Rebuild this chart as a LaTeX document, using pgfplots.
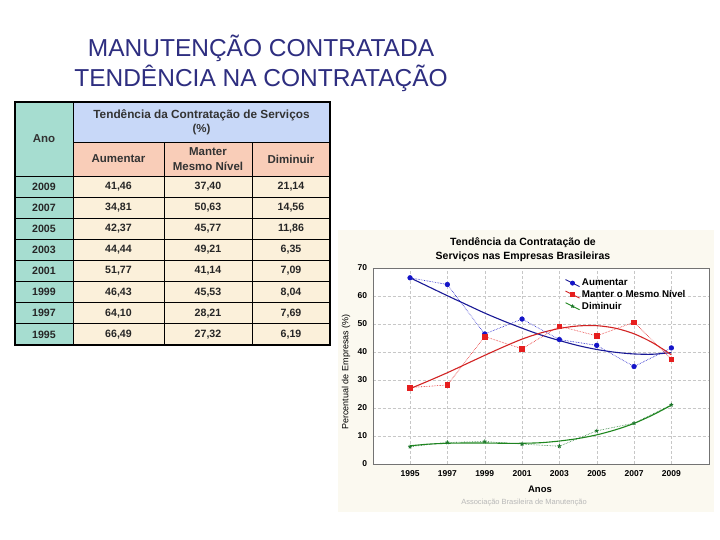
\documentclass[border=0pt]{standalone}
\usepackage{pgfplots}
\pgfplotsset{compat=1.18}
\usepackage{fontspec}
\setmainfont{Liberation Sans}

\definecolor{slidetitle}{RGB}{46,46,128}
\definecolor{cteal}{RGB}{166,221,208}
\definecolor{cblue}{RGB}{200,216,248}
\definecolor{csalmon}{RGB}{249,205,184}
\definecolor{ccream}{RGB}{251,240,218}
\definecolor{panel}{RGB}{251,249,240}
\definecolor{dblue}{RGB}{20,20,200}
\definecolor{fblue}{RGB}{25,25,150}
\definecolor{dred}{RGB}{230,30,30}
\definecolor{fred}{RGB}{210,35,35}
\definecolor{dgreen}{RGB}{30,120,45}
\definecolor{fgreen}{RGB}{30,135,30}

% data from the table (year, Aumentar, Manter, Diminuir)
\pgfplotstableread{
ano  aum    man    dim
1995 66.49  27.32  6.19
1997 64.10  28.21  7.69
1999 46.43  45.53  8.04
2001 51.77  41.14  7.09
2003 44.44  49.21  6.35
2005 42.37  45.77  11.86
2007 34.81  50.63  14.56
2009 41.46  37.40  21.14
}\dados

% fitted curves
\pgfplotstableread{
ano  aum   man   dim
1995 66.5  26.9  6.5
1996 63.3  29.7  7.1
1997 60.1  32.6  7.4
1998 57.0  35.7  7.5
1999 53.9  38.8  7.5
2000 51.1  41.8  7.4
2001 48.5  44.6  7.4
2002 46.1  46.8  7.6
2003 44.1  48.4  8.2
2004 42.3  49.3  9.1
2005 40.9  49.4  10.4
2006 39.9  48.5  12.2
2007 39.3  46.5  14.5
2008 39.2  43.3  17.5
2009 39.8  39.0  21.0
}\ajuste

\newcommand\fs[1]{\fontsize{#1}{#1}\selectfont}
\newcommand\trow[5]{%
  \node[font=\bfseries\fs{10.6}, text=black!85] at (44,#1) {#2};
  \node[font=\bfseries\fs{10.6}, text=black!85] at (118.5,#1) {#3};
  \node[font=\bfseries\fs{10.6}, text=black!85] at (208,#1) {#4};
  \node[font=\bfseries\fs{10.6}, text=black!85] at (291,#1) {#5};}

\begin{document}
\begin{tikzpicture}[x=1pt,y=1pt]
\path[use as bounding box, fill=white] (0,0) rectangle (720,540);

% slide title
\node[text=slidetitle, font=\fs{24.5}] at (261,492) {MANUTENÇÃO CONTRATADA};
\node[text=slidetitle, font=\fs{24.5}] at (261,462) {TENDÊNCIA NA CONTRATAÇÃO};

% table
\fill[cteal] (15,195) rectangle (73,438);
\fill[cblue] (73,398) rectangle (330,438);
\fill[csalmon] (73,364) rectangle (330,398);
\fill[ccream] (73,195) rectangle (330,364);
\draw[line width=0.9pt] (73,398) -- (330,398);
\foreach \y in {364,342.9,321.7,300.6,279.5,258.4,237.2,216.1} \draw[line width=0.9pt] (15,\y) -- (330,\y);
\draw[line width=0.9pt] (73,195) -- (73,438);
\draw[line width=0.9pt] (164,195) -- (164,398);
\draw[line width=0.9pt] (252,195) -- (252,398);
\draw[line width=1.4pt] (15,195) rectangle (330,438);
\node[font=\bfseries\fs{11.5}, text=black!80] at (44,401) {Ano};
\node[font=\bfseries\fs{11.8}, text=black!80] at (201.5,425) {Tendência da Contratação de Serviços};
\node[font=\bfseries\fs{11.5}, text=black!80] at (201.5,410) {(\%)};
\node[font=\bfseries\fs{11.5}, text=black!80] at (118.5,381) {Aumentar};
\node[font=\bfseries\fs{11.5}, text=black!80] at (208,388) {Manter};
\node[font=\bfseries\fs{11.5}, text=black!80] at (208,374) {Mesmo Nível};
\node[font=\bfseries\fs{11.5}, text=black!80] at (291,381) {Diminuir};
\trow{353.4}{2009}{41,46}{37,40}{21,14}
\trow{332.3}{2007}{34,81}{50,63}{14,56}
\trow{311.2}{2005}{42,37}{45,77}{11,86}
\trow{290.1}{2003}{44,44}{49,21}{6,35}
\trow{268.9}{2001}{51,77}{41,14}{7,09}
\trow{247.8}{1999}{46,43}{45,53}{8,04}
\trow{226.7}{1997}{64,10}{28,21}{7,69}
\trow{205.6}{1995}{66,49}{27,32}{6,19}

% chart panel
\fill[panel] (338,28) rectangle (714,310);
\node[font=\bfseries\fs{10.5}] at (523,297) {Tendência da Contratação de};
\node[font=\bfseries\fs{10.5}] at (523,283) {Serviços nas Empresas Brasileiras};
\node[font=\fs{9}, rotate=90] at (346,168) {Percentual de Empresas (\%)};
\node[font=\bfseries\fs{9.5}] at (540,51) {Anos};
\node[font=\fs{7.5}, text=black!28] at (524,37) {Associação Brasileira de Manutenção};

\begin{axis}[
  at={(372.7pt,76pt)}, anchor=south west,
  width=336pt, height=196pt, scale only axis,
  xmin=1993, xmax=2011, ymin=0, ymax=70,
  xtick={1995,1997,...,2009}, ytick={0,10,...,70},
  axis background/.style={fill=white},
  axis line style={black!55},
  major tick length=0pt,
  grid=major, grid style={densely dashed, black!22, line width=0.4pt},
  ticklabel style={font=\bfseries\fs{8.5}},
  /pgf/number format/assume math mode=true,
  xticklabel style={/pgf/number format/1000 sep=, yshift=-3pt},
  yticklabel style={xshift=-2pt},
  legend cell align=left,
  legend style={at={(0.572,0.955)}, anchor=north west, draw=none, fill=none,
    font=\bfseries\fs{9.8}, inner sep=0pt, row sep=-1pt,
    /tikz/every even column/.append style={column sep=2pt}},
  legend image code/.code={\draw[mark repeat=2, mark phase=2, #1]
    plot coordinates {(0pt,3.5pt) (7pt,0pt) (14pt,-3.5pt)};},
]
\addlegendimage{fblue, line width=0.9pt, mark=*, mark size=2, mark options={dblue}}
\addlegendimage{fred, line width=0.9pt, mark=square*, mark size=2, mark options={dred}}
\addlegendimage{fgreen, line width=0.9pt, mark=star, mark size=1.8, mark options={dgreen}}
\legend{Aumentar, Manter o Mesmo Nível, Diminuir}

\addplot[fblue, line width=1.1pt, smooth] table[x=ano, y=aum] {\ajuste};
\addplot[fred, line width=1.1pt, smooth] table[x=ano, y=man] {\ajuste};
\addplot[fgreen, line width=1.1pt, smooth] table[x=ano, y=dim] {\ajuste};

\addplot[dblue, densely dotted, line width=0.6pt, mark=*, mark size=2.3, mark options={solid}] table[x=ano, y=aum] {\dados};
\addplot[dred, densely dotted, line width=0.6pt, mark=square*, mark size=2.4, mark options={solid}] table[x=ano, y=man] {\dados};
\addplot[dgreen, densely dotted, line width=0.6pt, mark=star, mark size=2, mark options={solid, line width=0.9pt}] table[x=ano, y=dim] {\dados};
\end{axis}
\end{tikzpicture}
\end{document}
